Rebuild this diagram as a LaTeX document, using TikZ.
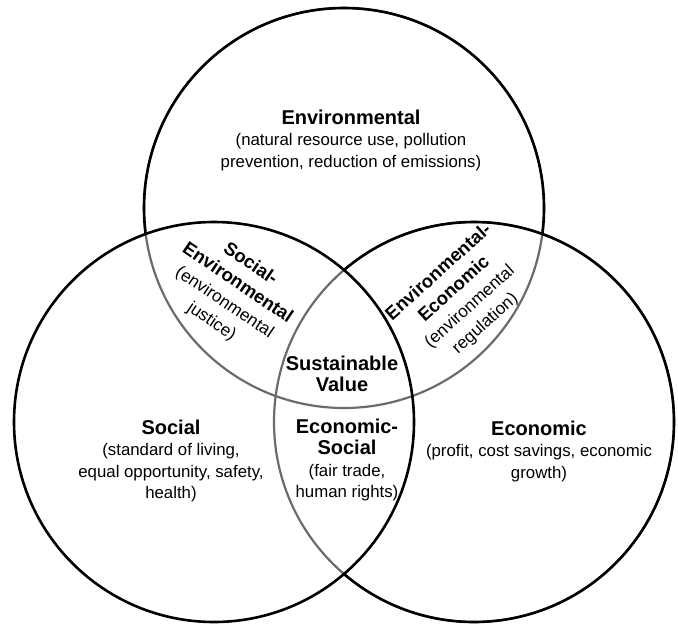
\documentclass[tikz,border=0pt]{standalone}
\usepackage{fontspec}
\setmainfont{Liberation Sans}
\newcommand\venhead[1]{{\fontsize{20}{21.5}\selectfont\bfseries #1}}
\newcommand\venrhead[1]{{\fontsize{18.5}{23}\selectfont\bfseries #1}}
\begin{document}
\begin{tikzpicture}[x=1pt,y=-1pt,
  blackring/.style={draw=black,line width=2.6pt},
  grayring/.style={draw=black!58,line width=2.2pt},
  lbl/.style={align=center,inner sep=0pt,font=\fontsize{16.8}{21.5}\selectfont},
  rlbl/.style={align=center,inner sep=0pt,font=\fontsize{17.2}{23}\selectfont}]
\useasboundingbox (0,0) rectangle (678,627);
\coordinate (T) at (344,208);
\coordinate (L) at (214,422);
\coordinate (R) at (474,422);
% gray (inner) parts
\draw[grayring] (T) circle[radius=200pt];
\draw[grayring] (R) circle[radius=200pt];
% black parts of the top circle: outside L and outside R
\begin{scope}[even odd rule]
  \clip (-20,-20) rectangle (700,650) (L) circle[radius=200pt];
  \clip (-20,-20) rectangle (700,650) (R) circle[radius=200pt];
  \draw[blackring] (T) circle[radius=200pt];
\end{scope}
% black parts of the right circle: outside L
\begin{scope}[even odd rule]
  \clip (-20,-20) rectangle (700,650) (L) circle[radius=200pt];
  \draw[blackring] (R) circle[radius=200pt];
\end{scope}
% left circle all black
\draw[blackring] (L) circle[radius=200pt];
% labels
\node[lbl] (env) at (351,140) {\venhead{Environmental}\\(natural resource use, pollution\\prevention, reduction of emissions)};
\node[lbl] (soc) at (171,461) {\venhead{Social}\\(standard of living,\\equal opportunity, safety,\\health)};
\node[lbl] (eco) at (539,451) {\venhead{Economic}\\(profit, cost savings, economic\\growth)};
\node[lbl] (ecosoc) at (347,460) {\venhead{Economic-}\\\venhead{Social}\\(fair trade,\\human rights)};
\node[lbl] (sv) at (342,374) {\venhead{Sustainable}\\\venhead{Value}};
\node[rlbl,rotate=-34] (socenv) at (231,293) {\venrhead{Social-}\\\venrhead{Environmental}\\(environmental\\justice)};
\node[rlbl,rotate=42] (envecon) at (462,298) {\venrhead{Environmental-}\\\venrhead{Economic}\\(environmental\\regulation)};
\end{tikzpicture}
\end{document}
